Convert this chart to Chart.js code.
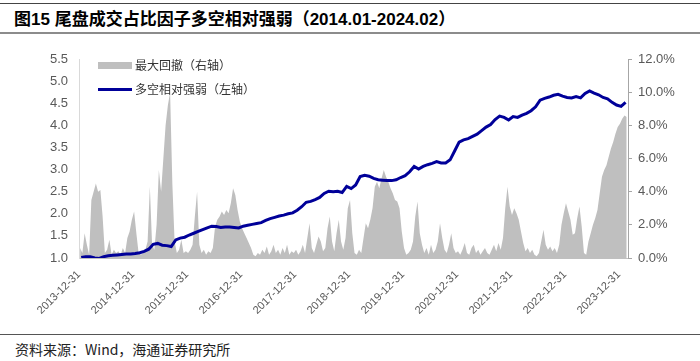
<!DOCTYPE html>
<html>
<head>
<meta charset="utf-8">
<script src="https://cdn.jsdelivr.net/npm/chart.js@4"></script>
<style>
  body { margin: 0; width: 700px; height: 361px; background: #fff; position: relative; overflow: hidden; }
  #title { position: absolute; left: 0; top: 3px; width: 700px; height: 31px; border-top: 1px solid #444; border-bottom: 2px solid #8c8c8c;
    font: bold 17px "Liberation Sans", "Noto Sans CJK SC", sans-serif; line-height: 31px; padding-left: 14px; box-sizing: border-box; color: #000; }
  #wrap { position: absolute; left: 0; top: 40px; width: 700px; height: 290px; }
  .leg { position: absolute; font: 12px "Noto Sans CJK SC", sans-serif; color: #333; line-height: 14px; }
  .sw { position: absolute; }
  #foot { position: absolute; left: 0; top: 334px; width: 700px; border-top: 1px solid #555;
    font: 14px "Noto Sans CJK SC", sans-serif; padding-left: 15px; padding-top: 4px; box-sizing: border-box; color: #222; }
</style>
</head>
<body>
<div id="title">图15 尾盘成交占比因子多空相对强弱（2014.01-2024.02）</div>
<div id="wrap"><canvas id="chart" width="700" height="290"></canvas></div>
<div class="sw" style="left:98px;top:62px;width:34px;height:7px;background:#bfbfbf"></div>
<div class="leg" style="left:135px;top:58px">最大回撤（右轴）</div>
<div class="sw" style="left:98px;top:88px;width:34px;height:3px;background:#000099"></div>
<div class="leg" style="left:135px;top:82px">多空相对强弱（左轴）</div>
<div id="foot">资料来源：Wind，海通证券研究所</div>
<script>
// monthly labels 2014-01 .. 2024-02
const months = [];
for (let y = 2014; y <= 2024; y++) {
  for (let m = 1; m <= 12; m++) {
    if (y < 2024 || m <= 2) months.push(`${y}-${String(m).padStart(2, '0')}`);
  }
}

// long-short relative strength, left axis, one value per month
const strength = [
  1.01, 1.03, 1.03, 1.00, 0.99, 1.03, 1.05, 1.06, 1.07, 1.08, 1.09, 1.09,
  1.10, 1.12, 1.15, 1.20, 1.31, 1.33, 1.29, 1.28, 1.26, 1.41, 1.45, 1.47,
  1.52, 1.56, 1.60, 1.64, 1.68, 1.72, 1.71, 1.69, 1.70, 1.70, 1.69, 1.68,
  1.72, 1.74, 1.76, 1.78, 1.80, 1.85, 1.89, 1.92, 1.95, 1.97, 2.00, 2.02,
  2.08, 2.16, 2.26, 2.28, 2.32, 2.37, 2.46, 2.51, 2.50, 2.51, 2.48, 2.62,
  2.57, 2.65, 2.84, 2.87, 2.85, 2.80, 2.77, 2.76, 2.75, 2.75, 2.77, 2.82,
  2.86, 2.95, 3.07, 3.01, 3.07, 3.11, 3.14, 3.18, 3.15, 3.15, 3.22, 3.42,
  3.62, 3.67, 3.70, 3.75, 3.80, 3.88, 3.96, 4.02, 4.13, 4.21, 4.18, 4.12,
  4.20, 4.18, 4.23, 4.27, 4.33, 4.42, 4.57, 4.61, 4.64, 4.68, 4.70, 4.66,
  4.63, 4.62, 4.65, 4.62, 4.72, 4.78, 4.73, 4.69, 4.63, 4.60, 4.52, 4.46,
  4.43, 4.52
];

// max drawdown in %, right axis, two values per month
const drawdown = [
  0.6, 0.3, 1.5, 0.8, 0.2, 3.5, 4.0, 4.5, 4.0, 4.1, 2.5, 0.3, 0.5, 1.1, 0.2, 0.5, 0.3, 0.4, 0.2, 0.6, 0.3, 1.2, 1.6, 2.3,
  2.8, 1.5, 0.3, 0.2, 0.3, 0.5, 1.0, 4.3, 0.8, 0.5, 2.0, 5.3, 4.0, 6.0, 8.0, 9.2, 10.0, 4.5, 1.0, 0.3, 0.5, 1.1, 0.3, 0.4,
  0.3, 0.5, 0.8, 2.5, 4.0, 0.8, 0.3, 0.5, 0.2, 0.4, 0.3, 0.6, 1.9, 2.3, 2.5, 2.8, 2.6, 2.9, 2.7, 3.3, 4.2, 3.8, 2.9, 2.2,
  1.8, 1.5, 1.2, 0.9, 0.6, 0.2, 0.1, 0.3, 0.2, 0.5, 0.3, 0.7, 0.2, 0.4, 0.8, 0.3, 0.5, 0.2, 0.6, 0.3, 0.8, 0.2, 0.4, 0.3,
  0.5, 0.2, 0.4, 0.8, 0.3, 1.2, 2.1, 0.6, 0.3, 0.8, 1.3, 1.0, 0.4, 0.6, 1.8, 2.5, 1.0, 0.4, 1.5, 2.3, 1.0, 0.5, 1.2, 3.0,
  3.5, 1.5, 0.3, 0.2, 0.5, 0.3, 1.2, 2.1, 1.8, 2.3, 3.0, 4.3, 4.6, 4.2, 4.8, 5.3, 4.9, 4.6, 4.2, 3.9, 3.5, 3.4, 3.0, 1.6,
  0.6, 0.2, 0.3, 0.5, 1.0, 2.5, 3.4, 1.5, 0.8, 0.3, 0.6, 0.2, 0.8, 0.3, 0.5, 1.0, 2.1, 1.2, 0.5, 0.3, 0.8, 1.5, 0.6, 0.3,
  0.4, 0.2, 0.5, 0.9, 0.3, 0.2, 0.6, 0.8, 0.3, 0.5, 0.2, 0.4, 0.6, 0.3, 0.2, 0.5, 0.8, 0.4, 0.9, 0.5, 1.2, 3.0, 4.3, 3.1,
  2.6, 3.0, 2.7, 2.3, 1.6, 0.9, 0.4, 0.6, 0.3, 0.5, 0.2, 0.1, 0.3, 1.0, 1.7, 0.8, 0.5, 0.7, 0.4, 0.6, 0.3, 0.8, 2.0, 2.7,
  3.3, 2.8, 2.3, 1.4, 1.5, 2.4, 3.1, 1.9, 0.3, 0.2, 1.0, 1.5, 2.0, 2.4, 2.9, 3.9, 4.9, 5.3, 5.6, 6.1, 6.6, 7.0, 7.5, 7.9,
  8.1, 8.4, 8.6, 8.5
];

// x tick labels (year ends)
const yearEnds = ['2013-12-31', '2014-12-31', '2015-12-31', '2016-12-31', '2017-12-31', '2018-12-31',
  '2019-12-31', '2020-12-31', '2021-12-31', '2022-12-31', '2023-12-31'];

const monthPos = (label, frac) => {
  const [y, m] = label.split('-').map(Number);
  return y + (m - 1 + frac) / 12;
};

const linePoints = strength.map((v, i) => ({ x: monthPos(months[i], 0.5), y: v }));
const ddPoints = drawdown.map((v, i) => ({ x: monthPos(months[Math.floor(i / 2)], (i % 2) * 0.5 + 0.25), y: v }));

const axisFont = { family: '"Liberation Sans", Arial, sans-serif', size: 13 };

new Chart(document.getElementById('chart'), {
  type: 'line',
  data: {
    datasets: [
      {
        label: '多空相对强弱（左轴）',
        data: linePoints,
        yAxisID: 'yL',
        borderColor: '#000099',
        borderWidth: 3,
        pointRadius: 0,
        tension: 0,
        order: 0
      },
      {
        label: '最大回撤（右轴）',
        data: ddPoints,
        yAxisID: 'yR',
        borderWidth: 0,
        backgroundColor: '#bfbfbf',
        fill: 'origin',
        pointRadius: 0,
        tension: 0,
        order: 1
      }
    ]
  },
  options: {
    responsive: false,
    animation: false,
    layout: { padding: { top: 19, left: 0, right: 0, bottom: 0 } },
    plugins: { legend: { display: false }, tooltip: { enabled: false } },
    scales: {
      x: {
        type: 'linear',
        min: 2014,
        max: 2024.17,
        grid: { display: false },
        border: { display: true, color: '#bfbfbf' },
        ticks: {
          stepSize: 1,
          includeBounds: false,
          autoSkip: false,
          minRotation: 45,
          maxRotation: 45,
          padding: 2,
          color: '#595959',
          font: { family: '"Liberation Sans", Arial, sans-serif', size: 11 },
          callback: v => yearEnds[Math.round(v) - 2014]
        },
        afterFit: s => { s.height = 72; }
      },
      yL: {
        position: 'left',
        min: 1.0,
        max: 5.5,
        grid: { display: false, drawTicks: false },
        border: { display: true, color: '#d9d9d9' },
        ticks: { stepSize: 0.5, padding: 11, color: '#595959', font: axisFont, callback: v => v.toFixed(1) },
        afterFit: s => { s.width = 79; }
      },
      yR: {
        position: 'right',
        min: 0,
        max: 12,
        grid: { display: true, drawOnChartArea: false, drawTicks: true, tickLength: 4, color: '#a6a6a6' },
        border: { display: true, color: '#a6a6a6' },
        ticks: { stepSize: 2, padding: 6, color: '#595959', font: axisFont, callback: v => v.toFixed(1) + '%' },
        afterFit: s => { s.width = 72; }
      }
    }
  }
});
</script>
</body>
</html>
